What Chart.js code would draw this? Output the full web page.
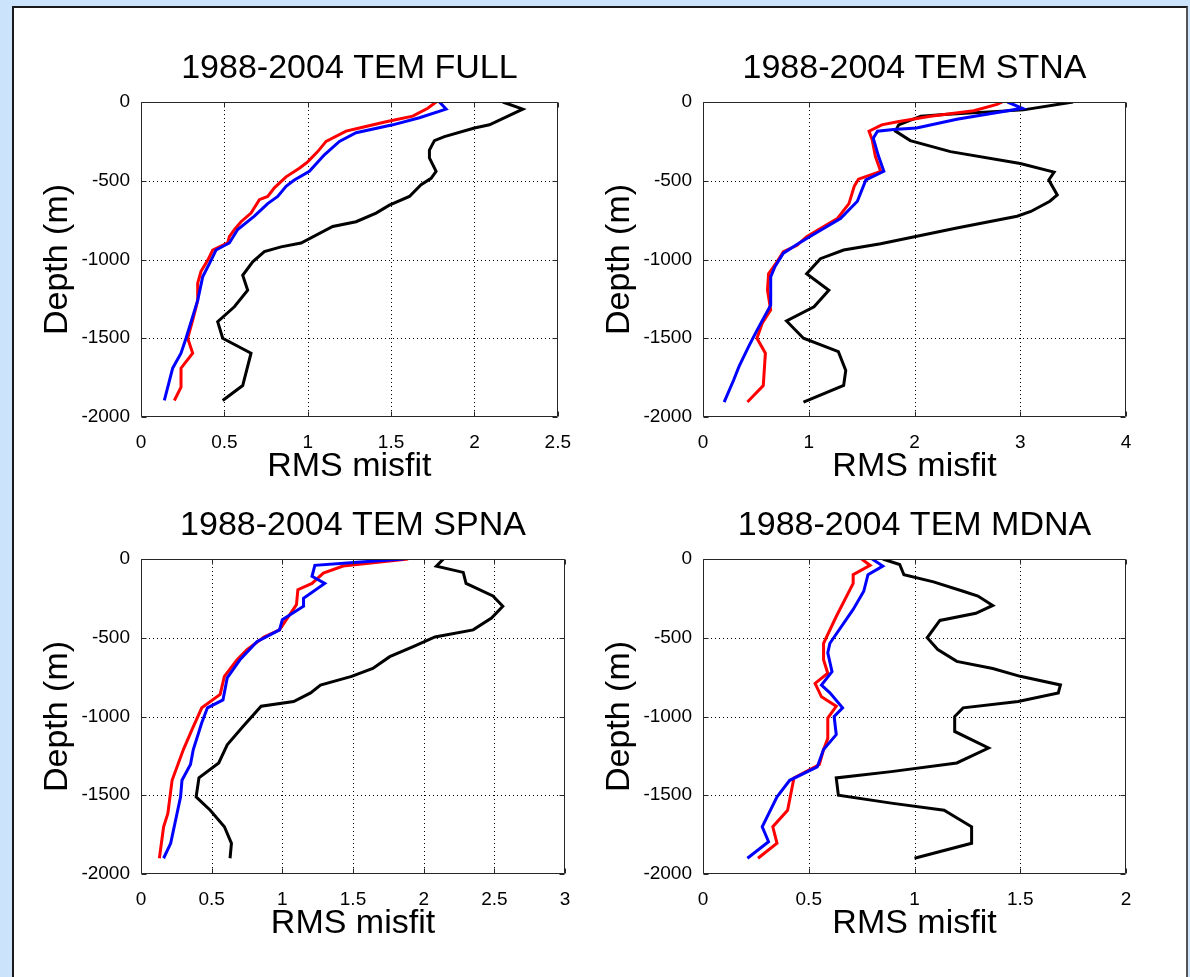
<!DOCTYPE html>
<html>
<head>
<meta charset="utf-8">
<title>1988-2004 TEM RMS misfit</title>
<script src="https://cdn.jsdelivr.net/npm/chart.js@4"></script>
<style>
  html, body { margin: 0; padding: 0; }
  body { width: 1190px; height: 977px; background: #cce4fb; overflow: hidden; position: relative; }
  #panel { position: absolute; left: 12px; top: 6px; width: 1172px; height: 1000px; background: #fff;
           border-left: 2px solid #1a1a1a; border-top: 2px solid #1a1a1a; border-right: 2px solid #555; }
  canvas { position: absolute; }
</style>
</head>
<body>
<div id="panel"></div>
<canvas id="full" width="554" height="455" style="left:31px;top:42px"></canvas>
<canvas id="stna" width="553" height="455" style="left:593px;top:42px"></canvas>
<canvas id="spna" width="554" height="455" style="left:31px;top:499px"></canvas>
<canvas id="mdna" width="553" height="455" style="left:593px;top:499px"></canvas>
<script>
// ---- RMS misfit profiles (misfit vs depth in m) ----
// FULL
const fullBlackMisfit = [2.17, 2.29, 2.09, 2.00, 1.82, 1.76, 1.73, 1.73, 1.77, 1.74, 1.68, 1.61, 1.49, 1.41, 1.29, 1.15, 0.96, 0.84, 0.74, 0.67, 0.61, 0.64, 0.56, 0.46, 0.49, 0.66, 0.61, 0.49];
const fullBlackDepth  = [0, -45, -145, -165, -220, -245, -305, -355, -440, -485, -525, -600, -655, -705, -760, -790, -895, -920, -950, -1015, -1100, -1195, -1300, -1395, -1500, -1595, -1800, -1895];
const fullRedMisfit   = [1.77, 1.72, 1.63, 1.47, 1.31, 1.23, 1.11, 1.06, 1.00, 0.95, 0.87, 0.80, 0.76, 0.71, 0.66, 0.60, 0.56, 0.53, 0.52, 0.43, 0.40, 0.36, 0.34, 0.34, 0.31, 0.28, 0.31, 0.24, 0.24, 0.20];
const fullRedDepth    = [0, -40, -90, -125, -165, -185, -250, -315, -380, -420, -475, -545, -600, -620, -705, -760, -810, -855, -895, -940, -1005, -1075, -1150, -1260, -1385, -1500, -1595, -1690, -1810, -1895];
const fullBlueMisfit  = [1.79, 1.83, 1.67, 1.51, 1.29, 1.19, 1.10, 1.01, 0.92, 0.87, 0.82, 0.76, 0.68, 0.58, 0.53, 0.45, 0.42, 0.37, 0.34, 0.27, 0.24, 0.19, 0.14];
const fullBlueDepth   = [0, -45, -100, -145, -195, -250, -335, -440, -495, -535, -600, -645, -725, -810, -895, -940, -1005, -1110, -1260, -1500, -1595, -1690, -1895];
// STNA
const stnaBlackMisfit = [3.50, 3.03, 2.28, 2.06, 1.85, 1.82, 1.96, 2.34, 3.00, 3.32, 3.27, 3.35, 3.28, 3.10, 2.97, 2.40, 1.68, 1.33, 1.11, 0.98, 1.19, 1.05, 0.79, 0.95, 1.28, 1.35, 1.33, 0.95];
const stnaBlackDepth  = [0, -50, -80, -90, -145, -185, -245, -315, -390, -445, -495, -590, -630, -695, -725, -800, -900, -940, -995, -1090, -1195, -1300, -1390, -1500, -1585, -1705, -1800, -1905];
const stnaRedMisfit   = [2.83, 2.78, 2.56, 2.15, 1.84, 1.69, 1.57, 1.60, 1.63, 1.68, 1.47, 1.43, 1.38, 1.27, 1.17, 0.98, 0.89, 0.76, 0.70, 0.62, 0.61, 0.64, 0.56, 0.51, 0.59, 0.57, 0.42];
const stnaRedDepth    = [0, -15, -55, -90, -125, -145, -185, -240, -345, -440, -490, -535, -645, -740, -780, -855, -910, -950, -1015, -1090, -1195, -1320, -1405, -1500, -1595, -1800, -1905];
const stnaBlueMisfit  = [2.88, 3.02, 2.40, 2.02, 1.80, 1.65, 1.61, 1.66, 1.71, 1.54, 1.46, 1.30, 1.06, 0.91, 0.76, 0.68, 0.64, 0.64, 0.51, 0.43, 0.34, 0.29, 0.20];
const stnaBlueDepth   = [0, -40, -110, -165, -175, -185, -230, -345, -440, -495, -630, -740, -835, -895, -960, -1045, -1110, -1290, -1450, -1555, -1680, -1765, -1905];
// SPNA
const spnaBlackMisfit = [2.14, 2.09, 2.28, 2.30, 2.49, 2.56, 2.48, 2.35, 2.08, 1.93, 1.76, 1.64, 1.49, 1.27, 1.20, 1.08, 0.85, 0.72, 0.61, 0.55, 0.41, 0.39, 0.49, 0.59, 0.64, 0.63];
const spnaBlackDepth  = [0, -45, -85, -155, -235, -300, -375, -450, -495, -555, -620, -695, -745, -800, -850, -905, -935, -1065, -1180, -1295, -1390, -1510, -1595, -1700, -1805, -1900];
const spnaRedMisfit   = [1.89, 1.43, 1.29, 1.21, 1.11, 1.10, 0.98, 0.87, 0.75, 0.68, 0.59, 0.56, 0.43, 0.36, 0.30, 0.22, 0.19, 0.16, 0.13];
const spnaRedDepth    = [0, -45, -90, -155, -195, -290, -450, -495, -575, -640, -745, -860, -945, -1085, -1210, -1405, -1615, -1700, -1900];
const spnaBlueMisfit  = [1.86, 1.53, 1.23, 1.21, 1.30, 1.15, 1.15, 1.00, 0.98, 0.82, 0.70, 0.61, 0.58, 0.47, 0.43, 0.37, 0.35, 0.29, 0.28, 0.21, 0.16];
const spnaBlueDepth   = [0, -20, -40, -110, -155, -250, -300, -385, -450, -525, -640, -755, -895, -945, -1040, -1210, -1305, -1405, -1510, -1805, -1900];
// MDNA
const mdnaBlackMisfit = [0.85, 0.93, 0.95, 1.09, 1.23, 1.30, 1.37, 1.29, 1.12, 1.06, 1.11, 1.20, 1.37, 1.50, 1.69, 1.68, 1.49, 1.23, 1.19, 1.19, 1.35, 1.20, 0.89, 0.63, 0.64, 0.89, 1.14, 1.27, 1.27, 1.00];
const mdnaBlackDepth  = [0, -35, -100, -145, -205, -235, -295, -345, -390, -500, -575, -650, -695, -745, -800, -850, -905, -945, -1000, -1095, -1200, -1295, -1350, -1390, -1500, -1550, -1595, -1700, -1805, -1900];
const mdnaRedMisfit   = [0.75, 0.79, 0.71, 0.71, 0.63, 0.57, 0.57, 0.59, 0.53, 0.56, 0.63, 0.59, 0.59, 0.57, 0.55, 0.43, 0.40, 0.33, 0.35, 0.26];
const mdnaRedDepth    = [0, -40, -100, -155, -365, -535, -640, -725, -790, -875, -935, -1010, -1140, -1210, -1305, -1390, -1595, -1700, -1805, -1900];
const mdnaBlueMisfit  = [0.80, 0.85, 0.78, 0.76, 0.71, 0.60, 0.59, 0.61, 0.56, 0.60, 0.66, 0.62, 0.63, 0.57, 0.54, 0.41, 0.35, 0.28, 0.31, 0.21];
const mdnaBlueDepth   = [0, -45, -100, -205, -320, -535, -595, -715, -800, -850, -945, -1000, -1115, -1210, -1320, -1405, -1510, -1700, -1795, -1900];

// ---- axis tick settings ----
const depthTicks = { min: -2000, max: 0, step: 500 };
const misfitAxes = {
  full: { max: 2.5, step: 0.5 },
  stna: { max: 4,   step: 1 },
  spna: { max: 3,   step: 0.5 },
  mdna: { max: 2,   step: 0.5 }
};

const FONT = "'Liberation Sans', Arial, Helvetica, sans-serif";

// dotted grid behind the profiles, box and inward ticks on top
const axesFrame = {
  id: 'axesFrame',
  beforeDatasetsDraw(chart) {
    const { ctx, chartArea: a, scales: { x, y } } = chart;
    ctx.save();
    ctx.strokeStyle = '#000';
    ctx.lineWidth = 1;
    ctx.setLineDash([1, 3]);
    ctx.beginPath();
    x.ticks.forEach(t => {
      const px = Math.round(x.getPixelForValue(t.value)) + 0.5;
      if (px > a.left + 1 && px < a.right - 1) { ctx.moveTo(px, a.top); ctx.lineTo(px, a.bottom); }
    });
    y.ticks.forEach(t => {
      const py = Math.round(y.getPixelForValue(t.value)) + 0.5;
      if (py > a.top + 1 && py < a.bottom - 1) { ctx.moveTo(a.left, py); ctx.lineTo(a.right, py); }
    });
    ctx.stroke();
    ctx.restore();
  },
  afterDatasetsDraw(chart) {
    const { ctx, chartArea: a, scales: { x, y } } = chart;
    const L = Math.round(a.left) + 0.5, R = Math.round(a.right) - 0.5;
    const T = Math.round(a.top) + 0.5, B = Math.round(a.bottom) - 0.5;
    const len = 5;
    ctx.save();
    ctx.strokeStyle = '#262626';
    ctx.lineWidth = 1;
    ctx.beginPath();
    x.ticks.forEach(t => {
      const px = Math.round(x.getPixelForValue(t.value)) + 0.5;
      ctx.moveTo(px, B); ctx.lineTo(px, B - len);
      ctx.moveTo(px, T); ctx.lineTo(px, T + len);
    });
    y.ticks.forEach(t => {
      const py = Math.round(y.getPixelForValue(t.value)) + 0.5;
      ctx.moveTo(L, py); ctx.lineTo(L + len, py);
      ctx.moveTo(R, py); ctx.lineTo(R - len, py);
    });
    ctx.rect(L, T, R - L, B - T);
    ctx.stroke();
    ctx.restore();
  }
};

function profile(misfit, depth, color) {
  return {
    data: depth.map((d, i) => ({ x: misfit[i], y: d })),
    borderColor: color,
    backgroundColor: color,
    borderWidth: 3,
    showLine: true,
    pointRadius: 0,
    pointHoverRadius: 0,
    tension: 0,
    fill: false
  };
}

function makePlot(id, title, axis, series) {
  return new Chart(document.getElementById(id), {
    type: 'scatter',
    data: { datasets: series },
    options: {
      responsive: false,
      animation: false,
      events: [],
      layout: { padding: { left: 0, top: 0, right: 20, bottom: 0 } },
      plugins: {
        legend: { display: false },
        tooltip: { enabled: false },
        title: {
          display: true, text: title, color: '#000', fullSize: false,
          font: { family: FONT, size: 34, weight: 'normal' },
          padding: { top: 6.6, bottom: 12.6 }
        }
      },
      scales: {
        x: {
          type: 'linear', min: 0, max: axis.max,
          ticks: {
            stepSize: axis.step, autoSkip: false, maxRotation: 0, minRotation: 0,
            color: '#000', font: { family: FONT, size: 19 }, padding: 14,
            callback: v => String(v)
          },
          grid: { display: false, drawTicks: false },
          border: { display: false },
          title: {
            display: true, text: 'RMS misfit', color: '#000',
            font: { family: FONT, size: 34, weight: 'normal' },
            padding: { top: 0, bottom: 9.6 }
          },
          afterFit: s => { s.height = 80; }
        },
        y: {
          type: 'linear', min: depthTicks.min, max: depthTicks.max,
          ticks: {
            stepSize: depthTicks.step, autoSkip: false,
            color: '#000', font: { family: FONT, size: 19 }, padding: 11,
            callback: v => String(v)
          },
          grid: { display: false, drawTicks: false },
          border: { display: false },
          title: {
            display: true, text: 'Depth (m)', color: '#000',
            font: { family: FONT, size: 34, weight: 'normal' },
            padding: { top: 6.6, bottom: 0 }
          },
          afterFit: s => { s.width = 110; }
        }
      }
    },
    plugins: [axesFrame]
  });
}

// first dataset is painted last, so blue sits over red, red over black
makePlot('full', '1988-2004 TEM FULL', misfitAxes.full, [
  profile(fullBlueMisfit, fullBlueDepth, '#0000ff'),
  profile(fullRedMisfit, fullRedDepth, '#ff0000'),
  profile(fullBlackMisfit, fullBlackDepth, '#000000')
]);
makePlot('stna', '1988-2004 TEM STNA', misfitAxes.stna, [
  profile(stnaBlueMisfit, stnaBlueDepth, '#0000ff'),
  profile(stnaRedMisfit, stnaRedDepth, '#ff0000'),
  profile(stnaBlackMisfit, stnaBlackDepth, '#000000')
]);
makePlot('spna', '1988-2004 TEM SPNA', misfitAxes.spna, [
  profile(spnaBlueMisfit, spnaBlueDepth, '#0000ff'),
  profile(spnaRedMisfit, spnaRedDepth, '#ff0000'),
  profile(spnaBlackMisfit, spnaBlackDepth, '#000000')
]);
makePlot('mdna', '1988-2004 TEM MDNA', misfitAxes.mdna, [
  profile(mdnaBlueMisfit, mdnaBlueDepth, '#0000ff'),
  profile(mdnaRedMisfit, mdnaRedDepth, '#ff0000'),
  profile(mdnaBlackMisfit, mdnaBlackDepth, '#000000')
]);
</script>
</body>
</html>
